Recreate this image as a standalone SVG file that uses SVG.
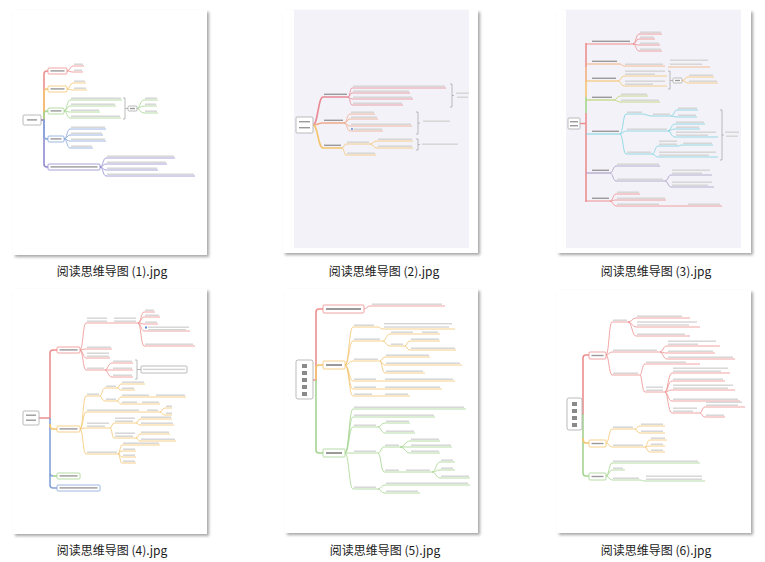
<svg xmlns="http://www.w3.org/2000/svg" width="765" height="562" viewBox="0 0 765 562">
<defs>
<filter id="sh" x="-10%" y="-10%" width="125%" height="125%"><feDropShadow dx="2" dy="2" stdDeviation="1.6" flood-color="#000" flood-opacity="0.35"/></filter>
<style>
.card{fill:#fff;filter:url(#sh)}
.bg{fill:#f3f2f8}
path{fill:none}
.ln{stroke-width:.8}
.tr{stroke-width:1.6}
.tm{stroke-width:1.1}
.r{stroke:#ee8e8e}.o{stroke:#f4c46e}.o2{stroke:#f3b07c}.g{stroke:#a5d48f}.b{stroke:#84a3d9}.p{stroke:#928bd0}.c{stroke:#7dd3df}.y{stroke:#bcd46c}.pg{stroke:#a89cc4}.k{stroke:#aaa}.rk{stroke:#e98a94}.ro{stroke:#efa98c}
.nd{fill:#fff;stroke-width:.8}
.t rect,rect.t{fill:#d4d4d4;height:1.4px}
.d rect,rect.d{fill:#9a9a9a;height:1.4px}
.cap{font-family:"Microsoft YaHei","Noto Sans CJK SC",sans-serif;font-size:12px;fill:#1a1a1a;text-anchor:middle}
</style>
</defs>
<rect width="765" height="562" fill="#fff"/>

<!-- Thumbnail 1 -->
<g id="thumb1">
<rect class="card" x="13" y="10" width="194" height="245"/>
<g id="t1-connectors">
<path class="tr r" d="M41 120H44V74Q44 71 47 71H48"/>
<path class="tr o" d="M44 120V92Q44 89 47 89H48"/>
<path class="tr g" d="M44 120V114Q44 111 47 111H48"/>
<path class="tr p" d="M41 120H44V164Q44 167 47 167H48"/>
<path class="tr b" d="M44 120V136Q44 139 47 139H48"/>
<path class="ln r" d="M67 71C70 71 70 66 73 66H84M67 71C70 71 70 72 73 72H83"/>
<path class="ln o" d="M67 89C70 89 70 83 73 83H86M67 89C70 89 70 90 73 90H87"/>
<path class="ln g" d="M64 111C67 111 67 100 70 100H122M64 111C67 111 67 106 70 106H116M64 111C67 111 67 112 70 112H100M64 111C67 111 67 118 70 118H121M137 108.5C140 108.5 140 100 144 100H158M137 108.5C140 108.5 140 106 144 106H157M137 108.5C140 108.5 140 113 144 113H158"/>
<path class="ln k" d="M123 98H125V119H123M125 108.5H128"/>
<path class="ln b" d="M64 139C67 139 67 129 70 129H106M64 139C67 139 67 135 70 135H103M64 139C67 139 67 141 70 141H106M64 139C67 139 67 148 70 148H93"/>
<path class="ln p" d="M100 167C103 167 103 158 106 158H175M100 167C103 167 103 164 106 164H167M100 167C103 167 103 170 106 170H158M100 167C103 167 103 176 106 176H195"/>
</g>
<g id="t1-root"><rect class="nd k" x="23" y="115" width="18" height="10" rx="1"/><rect class="d" x="27" y="119.2" width="10"/></g>
<g id="t1-nodes">
<rect class="nd r" x="48" y="68" width="19" height="6" rx="1"/>
<rect class="nd o" x="48" y="86" width="19" height="6" rx="1"/>
<rect class="nd g" x="48" y="108" width="16" height="6" rx="1"/>
<rect class="nd b" x="48" y="136" width="16" height="6" rx="1"/>
<rect class="nd p" x="48" y="164" width="52" height="6" rx="1"/>
<rect class="nd k" x="128" y="106" width="9" height="5" rx="1"/>
</g>
<g class="d"><rect x="50.5" y="70.2" width="14"/><rect x="50.5" y="88.2" width="14"/><rect x="50.5" y="110.2" width="11"/><rect x="50.5" y="138.2" width="11"/><rect x="50.5" y="166.2" width="47"/><rect x="130" y="107.8" width="5"/></g>
<g class="t">
<rect x="74" y="63.5" width="9"/><rect x="74" y="69.5" width="8"/>
<rect x="74" y="80.5" width="11"/><rect x="74" y="87.5" width="12"/>
<rect x="71" y="97.5" width="50"/><rect x="71" y="103.5" width="44"/><rect x="71" y="109.5" width="28"/><rect x="71" y="115.5" width="49"/>
<rect x="145" y="97.5" width="12"/><rect x="145" y="103.5" width="11"/><rect x="145" y="110.5" width="12"/>
<rect x="71" y="126.5" width="34"/><rect x="71" y="132.5" width="31"/><rect x="71" y="138.5" width="34"/><rect x="71" y="145.5" width="21"/>
<rect x="107" y="155.5" width="67"/><rect x="107" y="161.5" width="59"/><rect x="107" y="167.5" width="50"/><rect x="107" y="173.5" width="87"/>
</g>
<text class="cap" x="112" y="276">阅读思维导图 (1).jpg</text>
</g>

<!-- Thumbnail 2 -->
<g id="thumb2">
<rect class="card" x="283" y="10" width="195" height="243"/>
<rect class="bg" x="294" y="10" width="175" height="238"/>
<g id="t2-connectors">
<path class="tr rk" d="M313 125C318 125 318 97 323 97H348"/>
<path class="tr ro" d="M313 125C318 125 318 123 323 123H344"/>
<path class="tr o" d="M313 125C318 125 318 148 323 148H342"/>
<path class="ln rk" d="M348 97C350 97 350 88 352 88H446M348 97C350 97 350 93 352 93H410M348 97C350 97 350 99 352 99H413M348 97C350 97 350 105 352 105H403"/>
<path class="ln ro" d="M344 123C347 123 347 114 350 114H375M344 123C347 123 347 119 350 119H378M344 123C347 123 347 126 350 126H412M344 123C347 123 347 131 350 131H383"/>
<path class="ln o" d="M342 148C344 148 344 144 346 144H370M370 144C373 144 373 141 377 141H413M370 144C373 144 373 148 377 148H413M342 148C344 148 344 155 346 155H376"/>
<path class="ln k" d="M450 84H452V107H450M452 95.5H454M416 112H418V134H416M418 123H420M416 139H418V150H416M418 144.5H420"/>
</g>
<g id="t2-root"><rect class="nd k" x="296" y="117" width="17" height="16" rx="1"/><rect class="d" x="299" y="121" width="11"/><rect class="d" x="299" y="127" width="11"/></g>
<g class="d"><rect x="324" y="93.6" width="23"/><rect x="324" y="119.6" width="19"/><rect x="324" y="144.6" width="17"/></g>
<circle cx="352" cy="129" r="1" fill="#5b8dd6"/>
<g class="t">
<rect x="353" y="85.5" width="92"/><rect x="353" y="90.5" width="56"/><rect x="353" y="96.5" width="59"/><rect x="353" y="102.5" width="49"/>
<rect x="456" y="92.5" width="13"/><rect x="457" y="96.5" width="11"/>
<rect x="351" y="111.5" width="23"/><rect x="351" y="116.5" width="26"/><rect x="351" y="123.5" width="60"/><rect x="354" y="128.5" width="28"/>
<rect x="423" y="120.5" width="27"/>
<rect x="347" y="141.5" width="22"/><rect x="378" y="138.5" width="34"/><rect x="378" y="145.5" width="34"/><rect x="422" y="143.5" width="36"/><rect x="347" y="152.5" width="28"/>
</g>
<text class="cap" x="384" y="276">阅读思维导图 (2).jpg</text>
</g>

<!-- Thumbnail 3 -->
<g id="thumb3">
<rect class="card" x="557" y="10" width="194" height="243"/>
<rect class="bg" x="566" y="10" width="175" height="238"/>
<g id="t3-connectors">
<path class="tr r" d="M580 123.5H586M586 43V67M586 113V202"/>
<path class="tr o2" d="M586 67V82"/>
<path class="tr o" d="M586 82V97"/>
<path class="tr g" d="M586 97V113"/>
<path class="tm r" d="M586 44H633M586 201H610"/>
<path class="tm o2" d="M586 64H620"/>
<path class="tm o" d="M586 81H618"/>
<path class="tm y" d="M586 100H614"/>
<path class="tm c" d="M586 134H620"/>
<path class="tm pg" d="M586 173H610"/>
<path class="ln r" d="M633 44C636 44 636 34 639 34H662M633 44C636 44 636 39 639 39H655M633 44C636 44 636 45 639 45H660M633 44C636 44 636 51 639 51H662M610 201C613 201 613 194 616 194H640M610 201C613 201 613 200 616 200H666M610 201C613 201 613 206 616 206H722"/>
<path class="ln o2" d="M620 64C622 64 622 66 624 66H665M668 67H710"/>
<path class="ln o" d="M618 81C621 81 621 76 624 76H667M618 81C621 81 621 86 624 86H667M682 80.5C685 80.5 685 77 688 77H714M682 80.5C685 80.5 685 83 688 83H718"/>
<path class="ln k" d="M668 71H670V89H668M670 80.5H673M720 110H722V160H720M722 135H724"/>
<path class="ln y" d="M614 100C617 100 617 96 620 96H648M614 100C617 100 617 102 620 102H660"/>
<path class="ln c" d="M620 134C623 134 623 114 626 114H642M642 114C647 114 647 116 652 116H671M671 116C674 116 674 110 677 110H698M671 116C674 116 674 117 677 117H697M620 134C623 134 623 131 626 131H668M668 131C671 131 671 124 675 124H705M668 131C671 131 671 129 675 129H700M668 131C671 131 671 137 675 137H718M620 134C623 134 623 154 626 154H652M652 154C655 154 655 146 658 146H678M678 146C680 146 680 145 682 145H713M652 154C655 154 655 157 658 157H718"/>
<path class="ln pg" d="M610 173C613 173 613 166 616 166H660M610 173C613 173 613 181 616 181H665M665 181C668 181 668 175 671 175H712M665 181C668 181 668 187 671 187H714"/>
</g>
<g id="t3-root"><rect class="nd k" x="568" y="118" width="12" height="11" rx="1"/><rect class="d" x="570" y="121" width="8"/><rect class="d" x="570" y="125" width="8"/></g>
<rect class="nd k" x="673" y="78" width="9" height="5" rx="1"/>
<g class="d"><rect x="592" y="40.6" width="38"/><rect x="592" y="60.6" width="25"/><rect x="592" y="77.6" width="24"/><rect x="592" y="96.6" width="20"/><rect x="592" y="130.6" width="27"/><rect x="592" y="169.6" width="17"/><rect x="592" y="197.6" width="17"/><rect x="675" y="79.8" width="5"/></g>
<g class="t">
<rect x="640" y="31.5" width="21"/><rect x="640" y="36.5" width="14"/><rect x="640" y="42.5" width="19"/><rect x="640" y="48.5" width="21"/>
<rect x="625" y="63.5" width="38"/><rect x="670" y="59.5" width="38"/><rect x="670" y="63.5" width="32"/>
<rect x="625" y="70.5" width="40"/><rect x="625" y="73.5" width="30"/><rect x="625" y="80.5" width="40"/><rect x="625" y="83.5" width="28"/>
<rect x="689" y="74.5" width="24"/><rect x="689" y="80.5" width="28"/>
<rect x="621" y="93.5" width="26"/><rect x="621" y="99.5" width="38"/>
<rect x="627" y="111.5" width="15"/><rect x="653" y="113.5" width="17"/><rect x="678" y="107.5" width="19"/><rect x="678" y="114.5" width="18"/>
<rect x="627" y="128.5" width="40"/><rect x="676" y="121.5" width="28"/><rect x="676" y="126.5" width="23"/><rect x="676" y="131.5" width="40"/><rect x="676" y="134.5" width="32"/>
<rect x="627" y="151.5" width="24"/><rect x="659" y="140.5" width="18"/><rect x="659" y="143.5" width="18"/><rect x="683" y="142.5" width="29"/><rect x="659" y="151.5" width="57"/><rect x="659" y="154.5" width="50"/>
<rect x="725" y="131.5" width="14"/><rect x="726" y="135.5" width="12"/>
<rect x="617" y="163.5" width="42"/><rect x="617" y="178.5" width="46"/><rect x="672" y="169.5" width="38"/><rect x="672" y="172.5" width="30"/><rect x="672" y="181.5" width="40"/><rect x="672" y="184.5" width="36"/>
<rect x="617" y="191.5" width="22"/><rect x="617" y="197.5" width="48"/><rect x="617" y="203.5" width="42"/><rect x="688" y="203.5" width="32"/>
</g>
<text class="cap" x="656" y="276">阅读思维导图 (3).jpg</text>
</g>

<!-- Thumbnail 4 -->
<g id="thumb4">
<rect class="card" x="13" y="289" width="194" height="245"/>
<g id="t4-connectors">
<path class="tr r" d="M39 418H50V353Q50 350 53 350H57"/>
<path class="tr b" d="M50 418V485Q50 488 53 488H57M50 473Q50 476 53 476"/>
<path class="tr g" d="M53 476H57"/>
<path class="tr o" d="M50 424Q50 429 53 429H57"/>
<path class="ln r" d="M80 350C83 350 83 323 86 323H108M108 323H138M138 323C141 323 141 312 144 312H155M138 323C141 323 141 317 144 317H160M138 323C141 323 141 324 144 324H158M138 323C141 323 141 331 144 331H190M138 323C141 323 141 346 144 346H195M80 350C83 350 83 349 86 349H112M80 350C83 350 83 358 86 358H110M80 350C83 350 83 370 86 370H105M105 370C108 370 108 363 112 363H133M105 370H133M105 370C108 370 108 377 112 377H133"/>
<path class="ln k" d="M135 360H137V379H135M137 369.5H141"/>
<path class="ln o" d="M80 429C83 429 83 396 86 396H100M100 396C102 396 102 388 105 388H117M117 388C119 388 119 384 121 384H145M117 388C119 388 119 390 121 390H135M100 396C102 396 102 401 105 401H117M117 401C119 401 119 397 121 397H186M117 401C119 401 119 404 121 404H160M80 429C83 429 83 412 86 412H160M160 412C162 412 162 408 165 408H172M160 412C162 412 162 415 165 415H172M80 429C83 429 83 428 86 428H110M110 428C112 428 112 423 114 423H136M136 423C138 423 138 419 140 419H172M136 423C138 423 138 425 140 425H174M110 428C112 428 112 438 114 438H136M136 438C138 438 138 434 140 434H170M136 438C138 438 138 441 140 441H176M80 429C83 429 83 454 86 454H118M118 454C120 454 120 445 122 445H160M118 454C120 454 120 451 122 451H136M118 454C120 454 120 457 122 457H136M118 454C120 454 120 463 122 463H136"/>
</g>
<g id="t4-root"><rect class="nd k" x="23" y="411" width="16" height="14" rx="1"/><rect class="d" x="26" y="414.5" width="10"/><rect class="d" x="26" y="419.5" width="10"/></g>
<g id="t4-nodes">
<rect class="nd r" x="57" y="347" width="23" height="6" rx="1"/>
<rect class="nd o" x="57" y="426" width="23" height="6" rx="1"/>
<rect class="nd g" x="57" y="473" width="23" height="6" rx="1"/>
<rect class="nd b" x="57" y="485" width="43" height="6" rx="1"/>
<rect class="nd k" x="141" y="366" width="46" height="7" rx="1"/>
</g>
<g class="d"><rect x="59.5" y="349.2" width="18"/><rect x="59.5" y="428.2" width="18"/><rect x="59.5" y="475.2" width="18"/><rect x="59.5" y="487.2" width="38"/></g>
<rect x="145" y="326.5" width="2" height="2" fill="#5b8dd6"/>
<g class="t">
<rect x="87" y="317.5" width="20"/><rect x="87" y="320.5" width="20"/><rect x="114" y="317.5" width="22"/><rect x="114" y="320.5" width="22"/>
<rect x="145" y="309.5" width="9"/><rect x="145" y="314.5" width="14"/><rect x="145" y="321.5" width="12"/><rect x="148" y="326.5" width="41"/><rect x="148" y="329" width="38"/><rect x="145" y="343.5" width="48"/>
<rect x="87" y="346.5" width="24"/><rect x="87" y="352.5" width="22"/><rect x="87" y="355.5" width="22"/><rect x="87" y="367.5" width="17"/>
<rect x="113" y="360.5" width="19"/><rect x="113" y="367.5" width="19"/><rect x="113" y="374.5" width="19"/><rect x="143" y="368.7" width="42"/>
<rect x="87" y="393.5" width="12"/><rect x="106" y="385.5" width="10"/><rect x="122" y="381.5" width="22"/><rect x="122" y="387.5" width="12"/>
<rect x="106" y="398.5" width="10"/><rect x="122" y="394.5" width="27"/><rect x="156" y="394.5" width="29"/><rect x="122" y="401.5" width="15"/><rect x="142" y="401.5" width="17"/>
<rect x="87" y="409.5" width="52"/><rect x="147" y="409.5" width="11"/><rect x="166" y="405.5" width="6"/><rect x="166" y="412.5" width="6"/>
<rect x="87" y="422.5" width="22"/><rect x="87" y="425.5" width="18"/><rect x="115" y="417.5" width="20"/><rect x="115" y="420.5" width="18"/>
<rect x="141" y="416.5" width="30"/><rect x="141" y="422.5" width="32"/>
<rect x="115" y="432.5" width="20"/><rect x="115" y="435.5" width="18"/><rect x="141" y="431.5" width="28"/><rect x="141" y="438.5" width="34"/>
<rect x="87" y="451.5" width="30"/><rect x="123" y="442.5" width="36"/><rect x="123" y="448.5" width="12"/><rect x="123" y="454.5" width="12"/><rect x="123" y="460.5" width="12"/>
</g>
<text class="cap" x="112" y="555">阅读思维导图 (4).jpg</text>
</g>

<!-- Thumbnail 5 -->
<g id="thumb5">
<rect class="card" x="285" y="289" width="193" height="244"/>
<g id="t5-connectors">
<path class="tr r" d="M313 380H316V312Q316 309 319 309H323"/>
<path class="tr o" d="M316 380V368Q316 365 319 365H323"/>
<path class="tr g" d="M316 380V450Q316 453 319 453H323"/>
<path class="ln r" d="M364 309C367 309 367 306 370 306H445"/>
<path class="ln o" d="M345 365C349 365 349 327 353 327H378M378 327C380 327 380 329 383 329H455M345 365C349 365 349 341 353 341H383M383 341C386 341 386 334 390 334H440M383 341C386 341 386 346 390 346H405M405 346C407 346 407 341 410 341H440M405 346C407 346 407 350 410 350H456M345 365C349 365 349 361 353 361H380M380 361C382 361 382 357 385 357H430M380 361C382 361 382 365 385 365H462M380 361C382 361 382 373 385 373H425M345 365C349 365 349 381 353 381H455M345 365C349 365 349 389 353 389H442M345 365C349 365 349 396 353 396H410"/>
<path class="ln g" d="M345 453C349 453 349 409 353 409H466M345 453C349 453 349 417 353 417H435M345 453C349 453 349 427 353 427H378M378 427C381 427 381 423 385 423H410M378 427C381 427 381 433 385 433H415M345 453H378M378 453C381 453 381 447 384 447H400M400 447C405 447 405 441 410 441H440M400 447H452M400 447C405 447 405 453 410 453H440M378 453C381 453 381 472 384 472H432M432 472C436 472 436 462 440 462H455M432 472C436 472 436 470 440 470H455M432 472C436 472 436 478 440 478H470M345 453C349 453 349 489 353 489H378M378 489C381 489 381 485 385 485H470M378 489C381 489 381 493 385 493H420"/>
</g>
<g id="t5-root"><rect class="nd k" x="296" y="360" width="17" height="39" rx="2"/><g fill="#8a8a8a"><rect x="302" y="364" width="5" height="4"/><rect x="302" y="371" width="5" height="4"/><rect x="302" y="378" width="5" height="4"/><rect x="302" y="385" width="5" height="4"/><rect x="302" y="392" width="5" height="4"/></g></g>
<g id="t5-nodes">
<rect class="nd r" x="323" y="305" width="41" height="8" rx="1"/>
<rect class="nd o" x="323" y="361" width="22" height="8" rx="1"/>
<rect class="nd g" x="323" y="449" width="22" height="8" rx="1"/>
</g>
<g fill="#9a9a9a"><rect x="326" y="308" width="35" height="2"/><rect x="326" y="364" width="16" height="2"/><rect x="326" y="452" width="16" height="2"/></g>
<g class="t">
<rect x="372" y="303.5" width="70"/>
<rect x="354" y="324.5" width="20"/><rect x="384" y="323" width="68"/><rect x="384" y="326.3" width="65"/>
<rect x="354" y="338.5" width="26"/><rect x="391" y="331.5" width="22"/><rect x="422" y="331.5" width="16"/><rect x="391" y="343.5" width="12"/><rect x="411" y="338.5" width="28"/><rect x="411" y="347.5" width="44"/>
<rect x="354" y="358.5" width="24"/><rect x="386" y="354.5" width="43"/><rect x="386" y="362.5" width="74"/><rect x="386" y="370.5" width="37"/>
<rect x="354" y="378.5" width="22"/><rect x="385" y="378.5" width="68"/><rect x="354" y="386.5" width="22"/><rect x="385" y="386.5" width="55"/><rect x="354" y="393.5" width="18"/><rect x="385" y="393.5" width="23"/>
<rect x="354" y="406.5" width="110"/><rect x="354" y="414.5" width="80"/><rect x="354" y="424.5" width="22"/><rect x="386" y="420.5" width="23"/><rect x="386" y="430.5" width="28"/>
<rect x="354" y="450.5" width="22"/><rect x="385" y="444.5" width="14"/><rect x="411" y="438.5" width="28"/><rect x="411" y="444.5" width="40"/><rect x="411" y="450.5" width="28"/>
<rect x="385" y="469.5" width="14"/><rect x="406" y="469.5" width="24"/><rect x="441" y="459.5" width="12"/><rect x="441" y="467.5" width="12"/><rect x="441" y="475.5" width="28"/>
<rect x="354" y="486.5" width="22"/><rect x="386" y="482.5" width="82"/><rect x="386" y="490.5" width="32"/>
</g>
<text class="cap" x="385" y="555">阅读思维导图 (5).jpg</text>
</g>

<!-- Thumbnail 6 -->
<g id="thumb6">
<rect class="card" x="557" y="290" width="194" height="243"/>
<g id="t6-connectors">
<path class="tr r" d="M582 414H583V358Q583 355 586 355H589"/>
<path class="tr g" d="M583 414V473Q583 476 586 476H589"/>
<path class="tr o" d="M583 438Q583 443 586 443H589"/>
<path class="ln r" d="M606 355C609 355 609 322 612 322H628M628 322C632 322 632 318 636 318H690M628 322C632 322 632 327 636 327H700M628 322C632 322 632 336 636 336H690M606 355C609 355 609 352 612 352H660M660 352C663 352 663 346 667 346H720M660 352C663 352 663 353 667 353H715M660 352C663 352 663 359 667 359H735M606 355C609 355 609 375 612 375H640M640 375C642 375 642 364 645 364H700M640 375C642 375 642 392 645 392H665M665 392C668 392 668 373 672 373H730M665 392C668 392 668 381 672 381H725M665 392C668 392 668 390 672 390H735M665 392C668 392 668 401 672 401H740M665 392C668 392 668 413 672 413H700M700 413C702 413 702 407 705 407H745M700 413C702 413 702 417 705 417H725"/>
<path class="ln o" d="M606 443C609 443 609 429 612 429H635M635 429C637 429 637 426 640 426H665M635 429C637 429 637 433 640 433H665M606 443C609 443 609 447 612 447H645M645 447C647 447 647 440 650 440H667M645 447C647 447 647 446 650 446H665M645 447C647 447 647 452 650 452H665"/>
<path class="ln g" d="M606 476C609 476 609 463 612 463H700M606 476C609 476 609 470 612 470H625M606 476C609 476 609 480 612 480H640M640 480C642 480 642 481 645 481H705"/>
</g>
<g id="t6-root"><rect class="nd k" x="567" y="398" width="15" height="32" rx="2"/><g fill="#8a8a8a"><rect x="572" y="402" width="5" height="4"/><rect x="572" y="409" width="5" height="4"/><rect x="572" y="416" width="5" height="4"/><rect x="572" y="423" width="5" height="4"/></g></g>
<g id="t6-nodes">
<rect class="nd r" x="589" y="352" width="17" height="7" rx="1"/>
<rect class="nd o" x="589" y="440" width="17" height="7" rx="1"/>
<rect class="nd g" x="589" y="473" width="17" height="7" rx="1"/>
</g>
<g class="d"><rect x="591.5" y="354.8" width="12"/><rect x="591.5" y="442.8" width="12"/><rect x="591.5" y="475.8" width="12"/></g>
<g class="t">
<rect x="613" y="319.5" width="14"/><rect x="637" y="315.5" width="45"/><rect x="637" y="321.3" width="60"/><rect x="637" y="324.3" width="52"/><rect x="637" y="333.5" width="48"/>
<rect x="613" y="349.5" width="44"/><rect x="668" y="340.5" width="48"/><rect x="668" y="343.5" width="30"/><rect x="668" y="350.5" width="45"/><rect x="668" y="356.5" width="65"/>
<rect x="613" y="372.5" width="25"/><rect x="646" y="361.5" width="40"/><rect x="646" y="386.5" width="17"/><rect x="646" y="389.5" width="17"/>
<rect x="673" y="367.5" width="55"/><rect x="673" y="370.5" width="48"/><rect x="673" y="378.5" width="50"/><rect x="673" y="384.5" width="60"/><rect x="673" y="387.5" width="55"/><rect x="673" y="398.5" width="65"/>
<rect x="673" y="407.5" width="24"/><rect x="673" y="410.5" width="20"/><rect x="706" y="401.5" width="36"/><rect x="706" y="404.5" width="32"/><rect x="706" y="414.5" width="18"/>
<rect x="613" y="426.5" width="20"/><rect x="641" y="423.5" width="22"/><rect x="641" y="430.5" width="22"/>
<rect x="613" y="444.5" width="30"/><rect x="651" y="437.5" width="14"/><rect x="651" y="443.5" width="12"/><rect x="651" y="449.5" width="12"/>
<rect x="613" y="460.5" width="85"/><rect x="613" y="467.5" width="10"/><rect x="613" y="477.5" width="26"/><rect x="646" y="475.5" width="56"/><rect x="646" y="478.5" width="56"/>
</g>
<text class="cap" x="656" y="555">阅读思维导图 (6).jpg</text>
</g>
</svg>
